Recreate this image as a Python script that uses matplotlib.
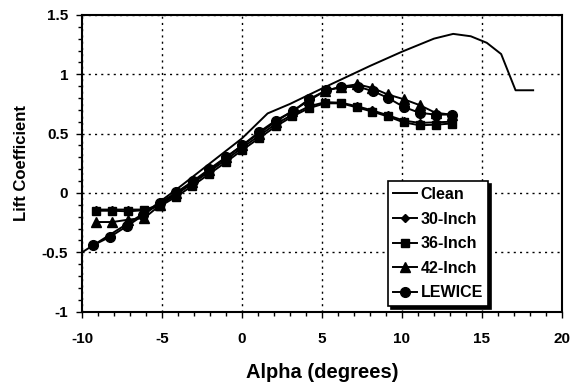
#!/usr/bin/env python3
import numpy as np
import matplotlib
matplotlib.use('Agg')
import matplotlib.pyplot as plt
from matplotlib.ticker import MultipleLocator, FuncFormatter

## Data
clean_alpha = [-10, -8, -6, -4, -2, 0, 1.6, 3.0, 5.0, 8.0, 10.0, 12.0, 13.2,
               14.3, 15.3, 16.2, 17.1, 18.2]
clean_cl = [-0.5, -0.33, -0.16, 0.04, 0.25, 0.46, 0.67, 0.75, 0.88, 1.07,
            1.19, 1.30, 1.34, 1.32, 1.265, 1.17, 0.865, 0.865]

exp_alpha = [-9.1, -8.1, -7.1, -6.1, -5.1, -4.1, -3.1, -2.05, -1.0, 0.0, 1.05,
             2.1, 3.15, 4.2, 5.2, 6.2, 7.2, 8.15, 9.1, 10.1, 11.1, 12.1, 13.1]
cl_30 = [-0.14, -0.14, -0.14, -0.14, -0.10, -0.01, 0.08, 0.18, 0.28, 0.38,
         0.48, 0.58, 0.66, 0.73, 0.765, 0.76, 0.73, 0.695, 0.655, 0.61, 0.59,
         0.595, 0.60]
cl_36 = [-0.15, -0.15, -0.155, -0.145, -0.11, -0.03, 0.06, 0.16, 0.26, 0.36,
         0.46, 0.56, 0.645, 0.715, 0.755, 0.755, 0.72, 0.685, 0.645, 0.595,
         0.57, 0.575, 0.585]
cl_42 = [-0.245, -0.245, -0.225, -0.21, -0.10, 0.0, 0.09, 0.19, 0.30, 0.40,
         0.50, 0.60, 0.69, 0.78, 0.86, 0.895, 0.915, 0.885, 0.83, 0.79, 0.74,
         0.675, 0.66]

lewice_alpha = [-9.3, -8.25, -7.2, -6.2, -5.15, -4.1, -3.06, -2.06, -1.02, 0.0,
                1.04, 2.1, 3.19, 4.19, 5.27, 6.2, 7.25, 8.2, 9.13, 10.1, 11.1,
                12.1, 13.1]
lewice_cl = [-0.44, -0.37, -0.28, -0.19, -0.085, 0.005, 0.10, 0.20, 0.30, 0.40,
             0.51, 0.61, 0.69, 0.79, 0.865, 0.89, 0.895, 0.857, 0.80, 0.725,
             0.675, 0.66, 0.66]

## Style
plt.rcParams['font.family'] = ['Liberation Sans', 'DejaVu Sans']
plt.rcParams['font.weight'] = 'bold'
plt.rcParams['axes.unicode_minus'] = False

fig = plt.figure(figsize=(5.74, 3.92), dpi=100)
ax = fig.add_axes([0.143, 0.205, 0.836, 0.757])

lw = 1.4
ax.plot(clean_alpha, clean_cl, '-', color='black', lw=lw, label='Clean')
ax.plot(exp_alpha, cl_30, '-', marker='D', ms=4, color='black', lw=lw,
        label='30-Inch')
ax.plot(exp_alpha, cl_36, '-', marker='s', ms=6, color='black', lw=lw,
        label='36-Inch')
ax.plot(exp_alpha, cl_42, '-', marker='^', ms=6.5, color='black', lw=lw,
        label='42-Inch')
ax.plot(lewice_alpha, lewice_cl, '-', marker='o', ms=7, color='black', lw=lw,
        label='LEWICE')

ax.set_xlim(-10, 20)
ax.set_ylim(-1, 1.5)
ax.xaxis.set_major_locator(MultipleLocator(5))
ax.xaxis.set_minor_locator(MultipleLocator(1))
ax.yaxis.set_major_locator(MultipleLocator(0.5))
ax.yaxis.set_minor_locator(MultipleLocator(0.1))
ax.yaxis.set_major_formatter(FuncFormatter(lambda v, p: '%g' % v))
ax.tick_params(which='both', direction='out', labelsize=11, width=1)
ax.tick_params(which='major', length=4)
ax.tick_params(which='minor', length=3)
ax.tick_params(axis='x', which='major', pad=11)
ax.tick_params(axis='y', which='major', pad=6)
ax.grid(which='major', color='black', linestyle=(0, (1.5, 3)), linewidth=1)
for s in ax.spines.values():
    s.set_linewidth(1.5)
for lab in ax.get_xticklabels() + ax.get_yticklabels():
    lab.set_fontweight('bold')

ax.set_xlabel('Alpha (degrees)', fontsize=14.5, fontweight='bold', labelpad=12)
ax.set_ylabel('Lift Coefficient', fontsize=12, fontweight='bold', labelpad=9)

leg = ax.legend(loc='lower left', bbox_to_anchor=(0.637, 0.019), fontsize=11.5,
                frameon=True, fancybox=False, edgecolor='black',
                shadow={'color': 'black', 'alpha': 1}, handlelength=1.45,
                handletextpad=0.25, labelspacing=0.6, borderpad=0.35,
                borderaxespad=0)
leg.get_frame().set_linewidth(1.2)
for t in leg.get_texts():
    t.set_fontweight('bold')

fig.savefig('out.png', dpi=100)
